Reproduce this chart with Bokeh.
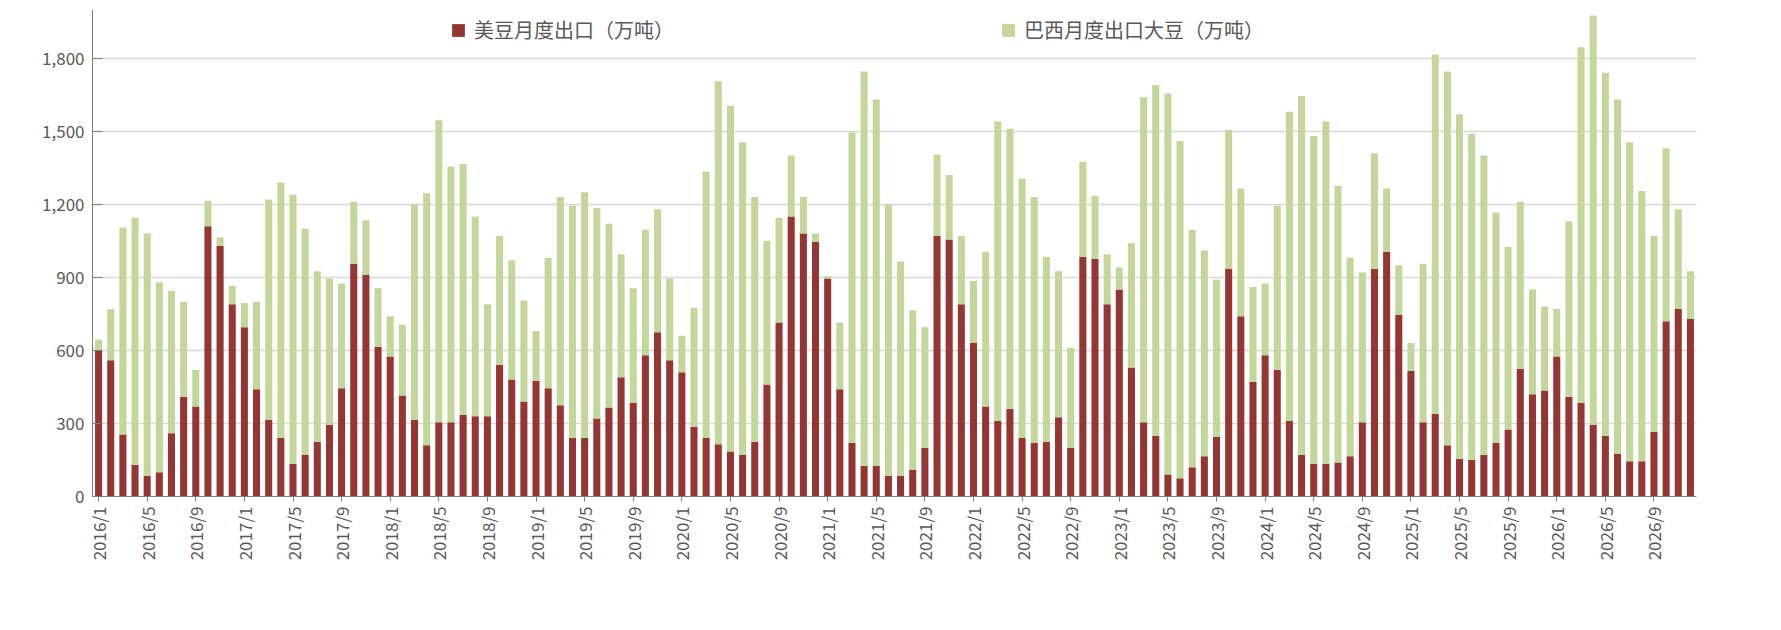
import math
from bokeh.plotting import figure
from bokeh.models import ColumnDataSource, FixedTicker, NumeralTickFormatter, Legend, LegendItem, Range1d
from bokeh.embed import file_html
from bokeh.resources import INLINE

years = list(range(2016, 2027))
months = [f"{y}/{m}" for y in years for m in range(1, 13)]

us = [600,560,255,130,85,100,260,410,370,1110,1030,790,
      695,440,315,240,135,170,225,295,445,955,910,615,
      575,415,315,210,305,305,335,330,330,540,480,390,
      475,445,375,240,240,320,365,490,385,580,675,560,
      510,285,240,215,185,170,225,460,715,1150,1080,1045,
      895,440,220,125,125,85,85,110,200,1070,1055,790,
      630,370,310,360,240,220,225,325,200,985,975,790,
      850,530,305,250,90,75,120,165,245,935,740,470,
      580,520,310,170,135,135,140,165,305,935,1005,745,
      515,305,340,210,155,150,170,220,275,525,420,435,
      575,410,385,295,250,175,145,145,265,720,770,730]
total = [645,770,1105,1145,1080,880,845,800,520,1215,1065,865,
         795,800,1220,1290,1240,1100,925,895,875,1210,1135,855,
         740,705,1200,1245,1545,1355,1365,1150,790,1070,970,805,
         680,980,1230,1195,1250,1185,1120,995,855,1095,1180,895,
         660,775,1335,1705,1605,1455,1230,1050,1145,1400,1230,1080,
         905,715,1495,1745,1630,1200,965,765,695,1405,1320,1070,
         885,1005,1540,1510,1305,1230,985,925,610,1375,1235,995,
         940,1040,1640,1690,1655,1460,1095,1010,890,1505,1265,860,
         875,1195,1580,1645,1480,1540,1275,980,920,1410,1265,950,
         630,955,1815,1745,1570,1490,1400,1165,1025,1210,850,780,
         770,1130,1845,1975,1740,1630,1455,1255,1070,1430,1180,925]
brazil = [t - u for t, u in zip(total, us)]

src = ColumnDataSource(dict(x=list(range(len(months))), us=us, brazil=brazil))

p = figure(width=1765, height=614, output_backend="svg", toolbar_location=None,
           x_range=Range1d(-0.5, len(months) - 0.5), y_range=Range1d(0, 2000),
           min_border_left=92, min_border_right=69, min_border_top=9, min_border_bottom=118)
p.outline_line_color = None
r = p.vbar_stack(["us", "brazil"], x="x", width=0.58, source=src,
                 color=["#943634", "#c4d79b"], line_color=None)

p.yaxis.ticker = FixedTicker(ticks=[0, 300, 600, 900, 1200, 1500, 1800])
p.yaxis.formatter = NumeralTickFormatter(format="0,0")
p.xaxis.ticker = FixedTicker(ticks=list(range(0, len(months), 4)))
p.xaxis.major_label_overrides = {i: months[i] for i in range(0, len(months), 4)}
p.xaxis.major_label_orientation = math.pi / 2
for ax in (p.xaxis, p.yaxis):
    ax.axis_line_color = "#808080"
    ax.major_label_text_color = "#595959"
    ax.major_label_text_font = "Noto Sans CJK SC"
    ax.major_label_text_font_size = "17px"
    ax.minor_tick_line_color = None
    ax.major_tick_line_color = "#808080"
p.yaxis.major_tick_in = 10
p.yaxis.major_tick_out = 0
p.xaxis.major_tick_in = 0
p.xaxis.major_tick_out = 5
p.yaxis.major_label_standoff = 8
p.xgrid.grid_line_color = None
p.ygrid.grid_line_color = "#d9d9d9"
p.ygrid.grid_line_width = 1.5

for i, (lab, xloc) in enumerate([("美豆月度出口（万吨）", 358), ("巴西月度出口大豆（万吨）", 908)]):
    lg = Legend(items=[LegendItem(label=lab, renderers=[r[i]])], location=(xloc, 452),
                orientation="horizontal", border_line_color=None, background_fill_alpha=0,
                label_text_font="Noto Sans CJK SC", label_text_font_size="20px",
                label_text_color="#595959", glyph_width=16, glyph_height=16,
                padding=0, margin=0, label_standoff=8)
    p.add_layout(lg, "center")

open("out.html", "w").write(file_html(p, INLINE))
